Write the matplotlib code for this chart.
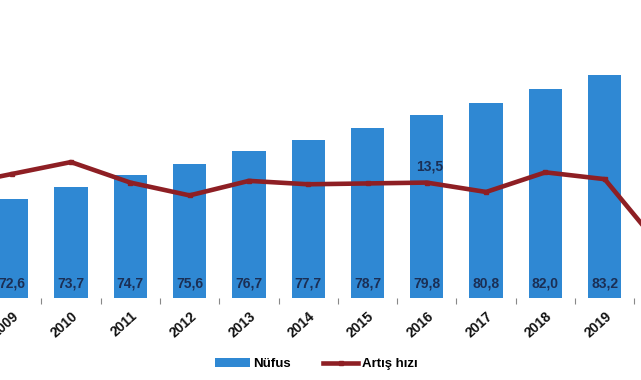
import matplotlib
matplotlib.use("Agg")
import matplotlib.pyplot as plt
from matplotlib.patches import Patch
from matplotlib.lines import Line2D

years = ["2008", "2009", "2010", "2011", "2012", "2013", "2014", "2015", "2016",
         "2017", "2018", "2019", "2020"]
population = [71.5, 72.6, 73.7, 74.7, 75.6, 76.7, 77.7, 78.7, 79.8, 80.8, 82.0, 83.2, 83.6]
growth = [13.1, 14.5, 15.9, 13.5, 12.0, 13.7, 13.3, 13.4, 13.5, 12.4, 14.7, 13.9, 5.5]
labelled_growth_year = "2016"
offscreen_years = ["2008", "2020"]  # value labels lying outside the visible crop

plt.rcParams['font.family'] = ['Liberation Sans', 'DejaVu Sans']

W, H = 641, 380
fig = plt.figure(figsize=(W / 100, H / 100), dpi=100)

# axes geometry in pixels (the chart is a crop of a wider figure)
step = 59.3
x_first = 11.7 - step          # pixel centre of the first category
left_px = x_first - 0.5 * step
width_px = len(years) * step
bottom_px = 298
ax = fig.add_axes([left_px / W, (H - bottom_px) / H, width_px / W, bottom_px / H])

bar_color = '#2f88d3'
line_color = '#8e1f24'
label_color = '#1b2f55'

idx = list(range(len(years)))
ax.bar(idx, population, width=0.56, color=bar_color, zorder=2)
ax.set_xlim(-0.5, len(years) - 0.5)
ybot = 64.2
ax.set_ylim(ybot, ybot + bottom_px / 11.73)

for i, (y, v) in enumerate(zip(years, population)):
    if y in offscreen_years:
        continue
    ax.annotate(f"{v:.1f}".replace('.', ','), xy=(i, ybot), xytext=(0, 10.8),
                textcoords='offset points', ha='center', va='center',
                fontsize=10, fontweight='bold', color=label_color, zorder=3)

ax.set_xticks([i + 0.5 for i in idx[:-1]])
ax.set_xticklabels([])
ax.tick_params(axis='x', length=4, width=0.8, color='#888888', direction='out')
ax.set_xticks(idx, minor=True)
ax.set_xticklabels(['' if y == years[0] else y for y in years], minor=True,
                   rotation=42, ha='right', rotation_mode='anchor',
                   fontsize=10, fontweight='bold', color='#111111')
ax.tick_params(axis='x', which='minor', length=0, pad=8)
ax.set_yticks([])
for s in ax.spines.values():
    s.set_visible(False)

ax2 = ax.twinx()
ax2.plot(idx, growth, color=line_color, linewidth=3.3, marker='s', markersize=2.5,
         zorder=4)
ax2.set_ylim(0, bottom_px / 8.55)
ax2.set_yticks([])
for s in ax2.spines.values():
    s.set_visible(False)

k = years.index(labelled_growth_year)
ax2.annotate(f"{growth[k]:.1f}".replace('.', ','), xy=(k, growth[k]), xytext=(2, 11.5),
             textcoords='offset points', ha='center', va='center',
             fontsize=10, fontweight='bold', color=label_color)

handles = [Patch(facecolor=bar_color, edgecolor='none'),
           Line2D([0], [0], color=line_color, linewidth=3.3, marker='s', markersize=3)]
fig.legend(handles, ['Nüfus', 'Artış hızı'], loc='center', bbox_to_anchor=(316 / W, 1 - 364 / H),
           ncol=2, frameon=False, handlelength=2.7, handleheight=0.6,
           handletextpad=0.25, columnspacing=2.4, prop={'weight': 'bold', 'size': 9.5})

fig.savefig('out.png', dpi=100)
